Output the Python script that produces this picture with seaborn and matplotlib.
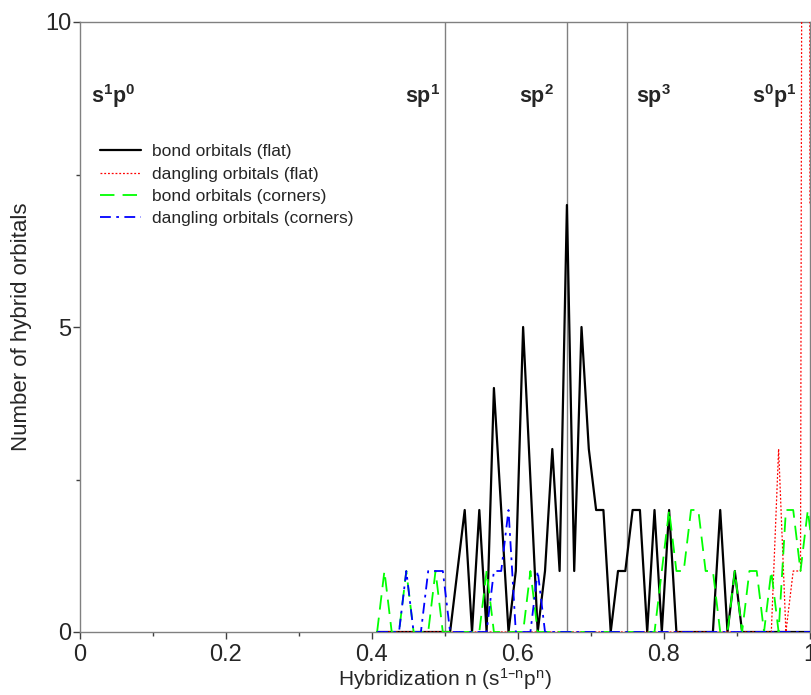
import numpy as np
import pandas as pd
import matplotlib
matplotlib.use("Agg")
import matplotlib.pyplot as plt
import seaborn as sns

# Hybridization values (x) and number of orbitals (y)
bond_flat_x = [0.407, 0.497, 0.507, 0.517, 0.527, 0.537, 0.547, 0.557, 0.567, 0.577,
               0.587, 0.597, 0.607, 0.617, 0.627, 0.637, 0.647, 0.657, 0.667, 0.677,
               0.687, 0.697, 0.707, 0.717, 0.727, 0.737, 0.747, 0.757, 0.767, 0.777,
               0.787, 0.797, 0.807, 0.817, 0.867, 0.877, 0.887, 0.897, 0.907, 1.007]
bond_flat_y = [0, 0, 0, 1, 2, 0, 2, 0, 4, 2,
               0, 1, 5, 2.5, 0, 1, 3, 1, 7, 1,
               5, 3, 2, 2, 0, 1, 1, 2, 2, 0,
               2, 0, 2, 0, 0, 2, 0, 1, 0, 0]

dangling_flat_x = [0.407, 0.937, 0.947, 0.957, 0.967, 0.977, 0.987, 0.997, 1.000]
dangling_flat_y = [0, 0, 0, 3, 0, 1, 1, 60, 7]

bond_corner_x = [0.407, 0.417, 0.427, 0.437, 0.447, 0.457, 0.467, 0.477, 0.487, 0.497,
                 0.547, 0.557, 0.567, 0.607, 0.617, 0.627, 0.787, 0.797, 0.807, 0.817,
                 0.827, 0.837, 0.847, 0.857, 0.867, 0.877, 0.887, 0.897, 0.907, 0.917,
                 0.927, 0.937, 0.947, 0.957, 0.967, 0.977, 0.987, 0.997, 1.007]
bond_corner_y = [0, 1, 0, 0, 1, 0, 0, 0, 1, 0,
                 0, 1, 0, 0, 1, 0, 0, 1, 2, 1,
                 1, 2, 2, 1, 1, 0, 0, 1, 0, 1,
                 1, 0, 1, 0, 2, 2, 1, 2, 1]

dangling_corner_x = [0.407, 0.437, 0.447, 0.457, 0.467, 0.477, 0.487, 0.497, 0.507,
                     0.557, 0.567, 0.577, 0.587, 0.597, 0.617, 0.627, 0.637, 1.007]
dangling_corner_y = [0, 0, 1, 0, 0, 1, 1, 1, 0,
                     0, 1, 1, 2, 0, 0, 1, 0, 0]

# reference hybridizations
ref_lines = [0.5, 2 / 3, 0.75]
ref_labels = [r"s$^1$p$^0$", r"sp$^1$", r"sp$^2$", r"sp$^3$", r"s$^0$p$^1$"]

sns.set_style("ticks")
plt.rcParams["font.family"] = ["Liberation Sans", "DejaVu Sans"]
plt.rcParams["mathtext.default"] = "regular"

fig = plt.figure(figsize=(8.12, 6.95), dpi=100)
ax = fig.add_axes([80 / 812, 63 / 695, 730 / 812, 610 / 695])

for xv in ref_lines:
    ax.axvline(xv, color="#808080", lw=1.0, zorder=1)

series = [
    (bond_flat_x, bond_flat_y, "bond orbitals (flat)", "black", "-", 1.6),
    (dangling_flat_x, dangling_flat_y, "dangling orbitals (flat)", "red", (0, (1.5, 1.5)), 0.9),
    (bond_corner_x, bond_corner_y, "bond orbitals (corners)", "#00ff00", (0, (8, 4.5)), 1.3),
    (dangling_corner_x, dangling_corner_y, "dangling orbitals (corners)", "blue", (0, (6, 3, 1.5, 3)), 1.3),
]
for xs, ys, lab, col, ls, lw in series:
    df = pd.DataFrame({"n": xs, "count": ys})
    sns.lineplot(data=df, x="n", y="count", ax=ax, color=col, linestyle=ls,
                 lw=lw, label=lab, estimator=None, sort=False, zorder=3)

ax.set_xlim(0, 1)
ax.set_ylim(0, 10)
ax.set_xticks([0, 0.2, 0.4, 0.6, 0.8, 1.0])
ax.set_xticklabels(["0", "0.2", "0.4", "0.6", "0.8", "1"])
ax.set_xticks(np.arange(0.1, 1.0, 0.2), minor=True)
ax.set_yticks([0, 5, 10])
ax.set_yticks([2.5, 7.5], minor=True)
ax.tick_params(axis="both", which="major", direction="out", length=5, width=1,
               labelsize=17, color="#404040")
ax.tick_params(axis="both", which="minor", direction="out", length=3, width=1,
               color="#404040")
ax.tick_params(axis="y", which="major", pad=1)
for sp in ax.spines.values():
    sp.set_color("#808080")
    sp.set_linewidth(1.0)

ax.set_xlabel("Hybridization n (s$^{1\u2013n}$p$^{n}$)", fontsize=15, labelpad=0)
ax.set_ylabel("Number of hybrid orbitals", fontsize=16, labelpad=10)

# hybridization labels
lab_x = [0.015, 0.493, 0.601, 0.762, 0.920]
lab_ha = ["left", "right", "left", "left", "left"]
for txt, xv, ha in zip(ref_labels, lab_x, lab_ha):
    ax.text(xv, 8.67, txt, ha=ha, va="baseline", fontsize=15.5, fontweight="bold")

leg = ax.legend(loc="upper left", bbox_to_anchor=(0.027, 0.80), frameon=False,
                fontsize=12.5, handlelength=2.4, handletextpad=0.6,
                labelspacing=0.42, borderpad=0, borderaxespad=0)

fig.savefig("out.png", dpi=100)
